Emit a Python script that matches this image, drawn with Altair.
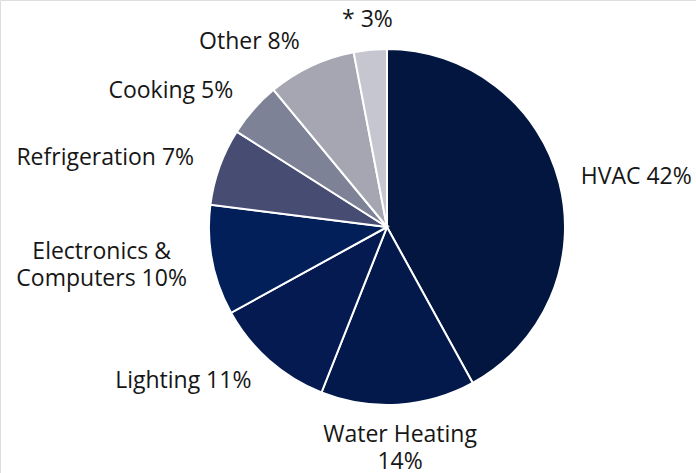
import altair as alt
import pandas as pd

categories = ["HVAC", "Water Heating", "Lighting", "Electronics & Computers",
              "Refrigeration", "Cooking", "Other", "*"]
shares = [42, 14, 11, 10, 7, 5, 8, 3]
labels = ["HVAC 42%", "Water Heating\n14%", "Lighting 11%", "Electronics &\nComputers 10%",
          "Refrigeration 7%", "Cooking 5%", "Other 8%", "* 3%"]
colors = ["#021640", "#03184b", "#041a50", "#021f5a", "#474d72", "#7e8296", "#a5a6b2", "#c5c6cf"]

right_side = ["HVAC"]
center_side = ["Water Heating", "*"]
two_line_left = ["Electronics & Computers"]

df = pd.DataFrame({"cat": categories, "share": shares, "label": labels,
                   "ord": list(range(len(categories)))})

cx, cy = 387, 227
tscale = alt.Scale(domain=[0, sum(shares)])

pie = alt.Chart(df).mark_arc(outerRadius=178, stroke="white", strokeWidth=2).encode(
    theta=alt.Theta("share:Q", stack=True, scale=tscale),
    order=alt.Order("ord:Q"),
    x=alt.value(cx), y=alt.value(cy),
    color=alt.Color("cat:N", scale=alt.Scale(domain=categories, range=colors), legend=None),
)

font = "Open Sans"
tcommon = dict(fontSize=23, font=font, color="#161616", lineBreak="\n", lineHeight=27,
               baseline="middle")

tbase = alt.Chart(df).transform_window(
    cum="sum(share)", sort=[alt.SortField("ord")], frame=[None, 0]
).transform_calculate(mid="datum.cum - datum.share / 2").encode(
    theta=alt.Theta("mid:Q", stack=None, scale=tscale),
    x=alt.value(cx), y=alt.value(cy),
    text="label:N",
)

def only(names):
    return alt.FieldOneOfPredicate(field="cat", oneOf=names)

t_right = tbase.mark_text(align="left", radius=200, **tcommon).transform_filter(only(right_side))
t_center = tbase.mark_text(align="center", radius=208, **tcommon).transform_filter(only(center_side))
t_two = tbase.mark_text(align="center", radius=205, dx=-84, dy=-13, **tcommon).transform_filter(
    only(two_line_left))
t_left = tbase.mark_text(align="right", radius=205, **tcommon).transform_filter(
    ~only(right_side + center_side + two_line_left))

chart = alt.layer(pie, t_right, t_center, t_two, t_left).properties(
    width=696, height=473, padding=0, autosize="none"
).configure_view(stroke=None).configure(background="white")

chart.save("out.html", embed_options={"renderer": "svg", "actions": False})
